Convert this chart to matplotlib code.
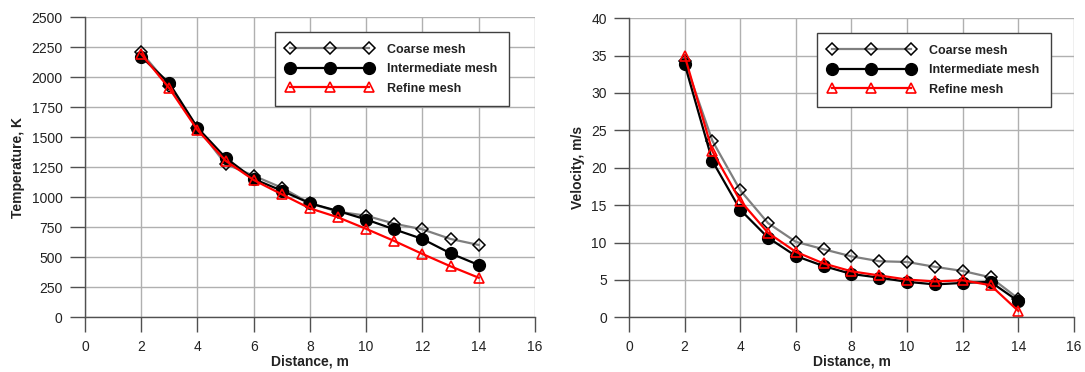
import matplotlib
matplotlib.use("Agg")
import matplotlib.pyplot as plt

plt.rcParams['font.family'] = ['Liberation Sans', 'DejaVu Sans']

distance = [2, 3, 4, 5, 6, 7, 8, 9, 10, 11, 12, 13, 14]

temp_coarse = [2208, 1930, 1580, 1278, 1180, 1080, 950, 880, 847, 780, 733, 653, 603]
temp_inter = [2172, 1950, 1580, 1330, 1153, 1055, 950, 886, 815, 733, 653, 533, 436]
temp_refine = [2194, 1908, 1561, 1305, 1144, 1025, 908, 833, 737, 636, 528, 425, 330]

vel_coarse = [34.3, 23.6, 17.0, 12.6, 10.1, 9.1, 8.15, 7.5, 7.4, 6.75, 6.2, 5.35, 2.5]
vel_inter = [33.9, 20.9, 14.4, 10.65, 8.2, 6.85, 5.8, 5.3, 4.75, 4.4, 4.6, 4.75, 2.15]
vel_refine = [35.0, 22.2, 15.6, 11.3, 8.75, 7.2, 6.15, 5.6, 5.05, 4.8, 4.95, 4.3, 0.85]

labels = ['Coarse mesh', 'Intermediate mesh', 'Refine mesh']

fig = plt.figure(figsize=(10.85, 3.72), dpi=100)
ax1 = fig.add_axes([0.0783, 0.147, 0.4147, 0.8065])
ax2 = fig.add_axes([0.5797, 0.147, 0.4101, 0.804])

grid_c = '#b0b0b0'
axis_c = '#505050'
text_c = '#222222'


def style(ax, ylim, yticks, ylabel, leg_x0, leg_y1):
    ax.set_xlim(0, 16)
    ax.set_ylim(*ylim)
    ax.set_xticks(range(0, 17, 2))
    ax.set_yticks(yticks)
    ax.grid(True, color=grid_c, linewidth=1.0)
    ax.set_axisbelow(True)
    for s in ['top', 'right']:
        ax.spines[s].set_visible(False)
    for s in ['left', 'bottom']:
        ax.spines[s].set_color(axis_c)
        ax.spines[s].set_linewidth(1.0)
    ax.tick_params(axis='both', direction='out', length=11, width=1.0,
                   color=axis_c, labelsize=10, labelcolor=text_c)
    ax.tick_params(axis='x', pad=5.5)
    ax.tick_params(axis='y', pad=5)
    ax.set_xlabel('Distance, m', fontsize=10, fontweight='bold', color=text_c, labelpad=0.5)
    ax.set_ylabel(ylabel, fontsize=10, fontweight='bold', color=text_c, labelpad=4.5)
    leg = ax.legend(labels, loc='upper left', bbox_to_anchor=(leg_x0, leg_y1),
                    borderaxespad=0, numpoints=3, handlelength=6.9,
                    handletextpad=1.15, labelspacing=0.6, borderpad=0.93,
                    fancybox=False, frameon=True,
                    prop={'weight': 'bold', 'size': 9})
    leg.get_frame().set_edgecolor('#404040')
    leg.get_frame().set_linewidth(1.0)
    leg.get_frame().set_alpha(1.0)
    for t in leg.get_texts():
        t.set_color(text_c)


def draw(ax, c, i, r):
    ax.plot(distance, c, color='#7f7f7f', linewidth=1.6, marker='D', markersize=6.5,
            markerfacecolor='none', markeredgecolor='black', markeredgewidth=1.1, clip_on=False)
    ax.plot(distance, i, color='black', linewidth=1.6, marker='o', markersize=8.5,
            markerfacecolor='black', markeredgecolor='black', clip_on=False)
    ax.plot(distance, r, color='#ff0000', linewidth=1.6, marker='^', markersize=7.5,
            markerfacecolor='none', markeredgecolor='#ff0000', markeredgewidth=1.2, clip_on=False)


draw(ax1, temp_coarse, temp_inter, temp_refine)
style(ax1, (0, 2500), range(0, 2501, 250), 'Temperature, K', 0.422, 0.951)

draw(ax2, vel_coarse, vel_inter, vel_refine)
style(ax2, (0, 40), range(0, 41, 5), 'Velocity, m/s', 0.422, 0.951)

fig.savefig('out.png', dpi=100)
